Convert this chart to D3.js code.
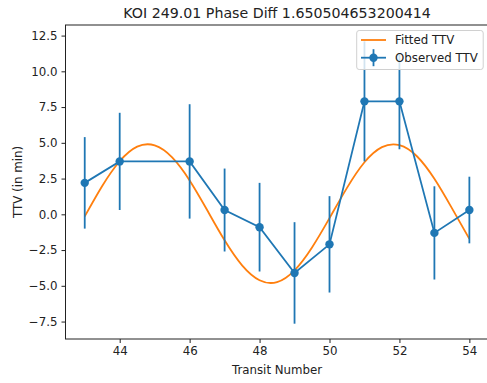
<!DOCTYPE html>
<html>
<head>
<meta charset="utf-8">
<script src="https://cdn.jsdelivr.net/npm/d3@7"></script>
<style>
  body { margin: 0; background: white; }
  svg { display: block; font-family: "DejaVu Sans", sans-serif; }
</style>
</head>
<body>
<svg id="chart" width="487" height="383"></svg>
<script>
// observed transit timing variations
var transits = [43, 44, 46, 47, 48, 49, 50, 51, 52, 53, 54];
var ttvObserved = [2.2, 3.7, 3.7, 0.3, -0.9, -4.1, -2.1, 7.9, 7.9, -1.3, 0.3];
var ttvError = [3.2, 3.4, 4.0, 2.9, 3.1, 3.55, 3.37, 4.2, 3.35, 3.26, 2.33];

// fitted curve, every half transit
var fitX = [43, 43.5, 44, 44.5, 45, 45.5, 46, 46.5, 47, 47.5, 48, 48.5, 49,
            49.5, 50, 50.5, 51, 51.5, 52, 52.5, 53, 53.5, 54];
var fitY = [-0.15, 1.98, 3.71, 4.73, 4.82, 3.98, 2.37, 0.30, -1.82, -3.57, -4.61, -4.74, -3.92,
            -2.32, -0.27, 1.85, 3.64, 4.70, 4.84, 4.06, 2.48, 0.43, -1.72];

var xTicks = [44, 46, 48, 50, 52, 54];
var yTicks = [-7.5, -5.0, -2.5, 0.0, 2.5, 5.0, 7.5, 10.0, 12.5];

var blue = '#1f77b4', orange = '#ff7f0e';
var fontSize = 11.8;

var svg = d3.select('#chart');
var plotLeft = 65.5, plotRight = 488.6, plotTop = 25, plotBottom = 339;

var x = d3.scaleLinear().domain([42.45, 54.55]).range([plotLeft, plotRight]);
var y = d3.scaleLinear().domain([-8.72, 13.24]).range([plotBottom, plotTop]);

// fitted line
svg.append('path')
  .datum(d3.zip(fitX, fitY))
  .attr('d', d3.line()
    .x(function(d) { return x(d[0]); })
    .y(function(d) { return y(d[1]); })
    .curve(d3.curveNatural))
  .attr('fill', 'none')
  .attr('stroke', orange)
  .attr('stroke-width', 1.8);

var obs = d3.zip(transits, ttvObserved, ttvError);

// error bars
svg.append('g').selectAll('line')
  .data(obs)
  .enter()
  .append('line')
  .attr('x1', function(d) { return x(d[0]); })
  .attr('x2', function(d) { return x(d[0]); })
  .attr('y1', function(d) { return y(d[1] - d[2]); })
  .attr('y2', function(d) { return y(d[1] + d[2]); })
  .attr('stroke', blue)
  .attr('stroke-width', 1.8);

svg.append('path')
  .datum(obs)
  .attr('d', d3.line()
    .x(function(d) { return x(d[0]); })
    .y(function(d) { return y(d[1]); }))
  .attr('fill', 'none')
  .attr('stroke', blue)
  .attr('stroke-width', 1.8);

svg.append('g').selectAll('circle')
  .data(obs)
  .enter()
  .append('circle')
  .attr('cx', function(d) { return x(d[0]); })
  .attr('cy', function(d) { return y(d[1]); })
  .attr('r', 4.2)
  .attr('fill', blue);

// axes
var xAxis = svg.append('g')
  .attr('transform', 'translate(0,' + plotBottom + ')')
  .call(d3.axisBottom(x).tickValues(xTicks).tickSize(4).tickPadding(4).tickFormat(d3.format('d')));
var yAxis = svg.append('g')
  .attr('transform', 'translate(' + plotLeft + ',0)')
  .call(d3.axisLeft(y).tickValues(yTicks).tickSize(4).tickPadding(4).tickFormat(d3.format('.1f')));

[xAxis, yAxis].forEach(function(a) {
  a.selectAll('text').attr('font-size', fontSize).attr('fill', '#222')
    .style('font-family', '"DejaVu Sans", sans-serif');
  a.selectAll('line').attr('stroke', '#222').attr('stroke-width', 1);
  a.select('.domain').remove();
});

// spines
svg.append('rect')
  .attr('x', plotLeft).attr('y', plotTop)
  .attr('width', plotRight - plotLeft).attr('height', plotBottom - plotTop)
  .attr('fill', 'none').attr('stroke', '#222').attr('stroke-width', 1);

// titles
svg.append('text')
  .attr('x', (plotLeft + plotRight) / 2).attr('y', 18)
  .attr('text-anchor', 'middle').attr('font-size', 14.2).attr('fill', '#222')
  .text('KOI 249.01 Phase Diff 1.650504653200414');

svg.append('text')
  .attr('x', (plotLeft + plotRight) / 2).attr('y', 374)
  .attr('text-anchor', 'middle').attr('font-size', fontSize).attr('fill', '#222')
  .text('Transit Number');

svg.append('text')
  .attr('transform', 'translate(22,' + (plotTop + plotBottom) / 2 + ') rotate(-90)')
  .attr('text-anchor', 'middle').attr('font-size', fontSize).attr('fill', '#222')
  .text('TTV (in min)');

// legend
var legend = svg.append('g');
legend.append('rect')
  .attr('x', 356.7).attr('y', 30.5).attr('width', 126.5).attr('height', 39)
  .attr('rx', 2.5)
  .attr('fill', 'white').attr('fill-opacity', 0.8)
  .attr('stroke', '#d0d0d0').attr('stroke-width', 1);

var entries = [
  { label: 'Fitted TTV', color: orange, marker: false },
  { label: 'Observed TTV', color: blue, marker: true }
];
entries.forEach(function(e, i) {
  var ly = 40 + i * 17.7;
  legend.append('line')
    .attr('x1', 361).attr('x2', 386).attr('y1', ly).attr('y2', ly)
    .attr('stroke', e.color).attr('stroke-width', 1.8);
  if (e.marker) {
    legend.append('line')
      .attr('x1', 373.5).attr('x2', 373.5).attr('y1', ly - 8.5).attr('y2', ly + 8.5)
      .attr('stroke', e.color).attr('stroke-width', 1.8);
    legend.append('circle')
      .attr('cx', 373.5).attr('cy', ly).attr('r', 4.2).attr('fill', e.color);
  }
  legend.append('text')
    .attr('x', 395).attr('y', ly + 4.3)
    .attr('font-size', fontSize).attr('fill', '#222')
    .text(e.label);
});
</script>
</body>
</html>
